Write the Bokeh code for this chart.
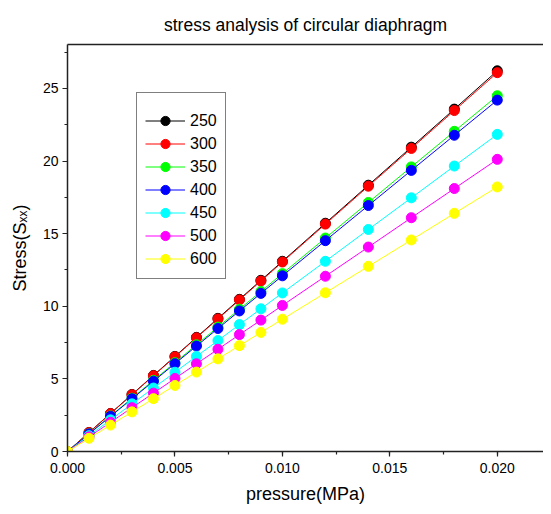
from bokeh.plotting import figure
from bokeh.models import (Range1d, LinearAxis, SingleIntervalTicker, FixedTicker,
                          NumeralTickFormatter, Legend, LegendItem)
from bokeh.embed import file_html
from bokeh.resources import INLINE

pressure = [0.0, 0.001, 0.002, 0.003, 0.004, 0.005, 0.006, 0.007, 0.008, 0.009,
            0.010, 0.012, 0.014, 0.016, 0.018, 0.020]
s250 = [0, 1.31, 2.62, 3.93, 5.24, 6.55, 7.86, 9.17, 10.48, 11.79, 13.10, 15.72, 18.34, 20.96, 23.58, 26.22]
s300 = [0, 1.30, 2.61, 3.91, 5.22, 6.52, 7.83, 9.13, 10.44, 11.74, 13.05, 15.66, 18.27, 20.87, 23.48, 26.09]
s350 = [0, 1.22, 2.45, 3.67, 4.90, 6.12, 7.35, 8.57, 9.80, 11.02, 12.25, 14.70, 17.15, 19.60, 22.05, 24.50]
s400 = [0, 1.21, 2.42, 3.63, 4.84, 6.05, 7.26, 8.47, 9.68, 10.89, 12.10, 14.52, 16.94, 19.36, 21.78, 24.20]
s450 = [0, 1.09, 2.18, 3.28, 4.37, 5.46, 6.55, 7.64, 8.74, 9.83, 10.92, 13.10, 15.29, 17.47, 19.66, 21.84]
s500 = [0, 1.01, 2.01, 3.02, 4.02, 5.03, 6.04, 7.04, 8.05, 9.05, 10.06, 12.07, 14.08, 16.10, 18.11, 20.12]
s600 = [0, 0.91, 1.82, 2.73, 3.64, 4.55, 5.47, 6.38, 7.29, 8.20, 9.11, 10.93, 12.75, 14.57, 16.40, 18.22]

series_names = ["250", "300", "350", "400", "450", "500", "600"]
series_values = [s250, s300, s350, s400, s450, s500, s600]
colors = ["#000000", "#ff0000", "#00ff00", "#0000ff", "#00ffff", "#ff00ff", "#ffff00"]

FONT = "Liberation Sans"

p = figure(width=543, height=509, x_range=Range1d(0, 0.02215), y_range=Range1d(0, 28.03),
           output_backend="svg", toolbar_location=None,
           min_border_left=67, min_border_right=0, min_border_top=44, min_border_bottom=58)
p.outline_line_color = None
p.xgrid.visible = False
p.ygrid.visible = False

p.title.text = "stress analysis of circular diaphragm"
p.title.align = "center"
p.title.text_font = FONT
p.title.text_font_size = "17.5px"
p.title.text_font_style = "normal"
p.title.text_color = "#000000"
p.title.standoff = 19

p.xaxis.ticker = SingleIntervalTicker(interval=0.005, num_minor_ticks=2)
p.xaxis.formatter = NumeralTickFormatter(format="0.000")
p.yaxis.ticker = SingleIntervalTicker(interval=5, num_minor_ticks=2)
p.xaxis.axis_label = "pressure(MPa)"
p.yaxis.axis_label = "Stress(S\u2093\u2093)"
for ax in (p.xaxis, p.yaxis):
    ax.axis_line_width = 1.5
    ax.axis_line_color = "#222222"
    ax.major_tick_line_color = "#222222"
    ax.minor_tick_line_color = "#222222"
    ax.major_tick_line_width = 1.2
    ax.minor_tick_line_width = 1.2
    ax.major_tick_out = 5
    ax.major_tick_in = 0
    ax.minor_tick_out = 3
    ax.minor_tick_in = 0
    ax.major_label_text_font = FONT
    ax.major_label_text_font_size = "14px"
    ax.major_label_text_color = "#000000"
    ax.axis_label_text_font = FONT
    ax.axis_label_text_font_size = "18px"
    ax.axis_label_text_font_style = "normal"
    ax.axis_label_text_color = "#000000"
p.xaxis.major_label_standoff = 6
p.yaxis.major_label_standoff = 4
p.xaxis.axis_label_standoff = 8
p.yaxis.axis_label_standoff = 10

top_axis = LinearAxis(ticker=FixedTicker(ticks=[]), axis_line_width=1.5,
                      axis_line_color="#222222", major_label_text_font_size="0px")
top_axis.major_tick_line_color = None
top_axis.minor_tick_line_color = None
p.add_layout(top_axis, "above")

items = []
for name, vals, c in zip(series_names, series_values, colors):
    ln = p.line(pressure, vals, line_color=c, line_width=1)
    sc = p.scatter(pressure, vals, size=10, fill_color=c, line_color=c)
    items.append(LegendItem(label=name, renderers=[ln, sc]))

legend = Legend(items=items, location=(69, 172))
legend.title = " "
legend.title_text_font_size = "6px"
legend.title_standoff = 2
legend.padding = 8
legend.spacing = 0
legend.glyph_width = 40
legend.glyph_height = 23
legend.label_height = 23
legend.label_standoff = 5
legend.label_text_font = FONT
legend.label_text_font_size = "16px"
legend.label_text_color = "#000000"
legend.border_line_color = "#000000"
legend.border_line_width = 1
legend.background_fill_alpha = 1
p.add_layout(legend)

open("out.html", "w").write(file_html(p, INLINE))
